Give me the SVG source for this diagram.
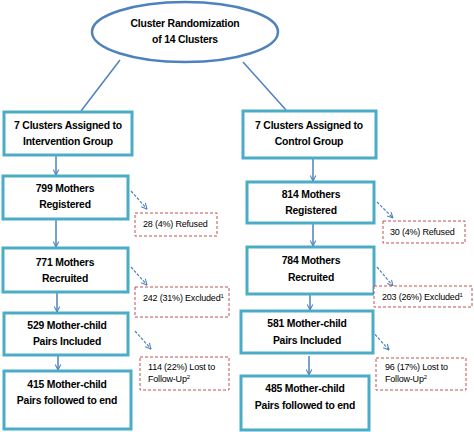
<svg xmlns="http://www.w3.org/2000/svg" width="474" height="432" viewBox="0 0 474 432">
<style>
.box{fill:#fff;stroke:#4BACC6;stroke-width:3}
.ex{fill:#fff;stroke:#C0504D;stroke-width:1;stroke-dasharray:3,2}
.t{font-family:"Liberation Sans",Arial,sans-serif;font-weight:bold;font-size:10.4px;letter-spacing:-0.2px;fill:#000;text-anchor:middle}
.s{font-family:"Liberation Sans",Arial,sans-serif;font-size:9px;letter-spacing:-0.2px;fill:#000}
.ln{stroke:#4F81BD;stroke-width:1.5;fill:none}
.ar{stroke:#4F81BD;stroke-width:1.5;fill:none;marker-end:url(#ah)}
.da{stroke:#4F81BD;stroke-width:1.2;fill:none;stroke-dasharray:3,1.5;marker-end:url(#ah)}
</style>
<defs>
<marker id="ah" viewBox="0 0 10 10" refX="9" refY="5" markerWidth="7" markerHeight="7" orient="auto" markerUnits="userSpaceOnUse"><path d="M1,1 L9,5 L1,9" fill="none" stroke="#4F81BD" stroke-width="1.5"/></marker>
</defs>
<g id="connectors">
<line class="ln" x1="120" y1="60" x2="81" y2="111"/>
<line class="ln" x1="243" y1="62" x2="286" y2="110"/>
<line class="ar" x1="56" y1="156" x2="56" y2="175"/>
<line class="ar" x1="56" y1="220" x2="56" y2="247"/>
<line class="ar" x1="57" y1="293" x2="57" y2="312"/>
<line class="ar" x1="58" y1="356" x2="58" y2="370"/>
<line class="ar" x1="313" y1="159" x2="313" y2="181"/>
<line class="ar" x1="313" y1="224" x2="313" y2="246"/>
<line class="ar" x1="310" y1="295" x2="310" y2="310"/>
<line class="ar" x1="309" y1="356" x2="309" y2="375"/>
<line class="da" x1="131" y1="191" x2="147" y2="209"/>
<line class="da" x1="131" y1="267" x2="147" y2="285"/>
<line class="da" x1="135" y1="331" x2="151" y2="349"/>
<line class="da" x1="377" y1="202" x2="393" y2="218"/>
<line class="da" x1="377" y1="267" x2="393" y2="286"/>
<line class="da" x1="372" y1="331" x2="389" y2="350"/>
</g>
<g id="root">
<ellipse cx="185" cy="32" rx="93" ry="30" fill="#fff" stroke="#4F81BD" stroke-width="2.5"/>
<text class="t" x="185" y="27">Cluster Randomization</text>
<text class="t" x="185" y="43">of 14 Clusters</text>
</g>
<g id="int-assigned">
<rect class="box" x="4" y="112" width="128" height="43"/>
<text class="t" x="68" y="129">7 Clusters Assigned to</text>
<text class="t" x="68" y="145">Intervention Group</text>
</g>
<g id="ctl-assigned">
<rect class="box" x="243" y="111" width="133" height="47"/>
<text class="t" x="309" y="129">7 Clusters Assigned to</text>
<text class="t" x="309" y="145">Control Group</text>
</g>
<g id="int-registered">
<rect class="box" x="3" y="176" width="125" height="43"/>
<text class="t" x="65" y="192">799 Mothers</text>
<text class="t" x="65" y="208">Registered</text>
</g>
<g id="int-refused">
<rect class="ex" x="135" y="213" width="82" height="23"/>
<text class="s" x="143" y="227">28 (4%) Refused</text>
</g>
<g id="int-recruited">
<rect class="box" x="3" y="248" width="125" height="44"/>
<text class="t" x="65" y="266">771 Mothers</text>
<text class="t" x="65" y="282">Recruited</text>
</g>
<g id="int-excluded">
<rect class="ex" x="135" y="287" width="94" height="30"/>
<text class="s" x="143" y="301">242 (31%) Excluded<tspan font-size="6" dy="-3.5">1</tspan></text>
</g>
<g id="int-included">
<rect class="box" x="4" y="313" width="124" height="42"/>
<text class="t" x="67" y="329">529 Mother-child</text>
<text class="t" x="67" y="345">Pairs Included</text>
</g>
<g id="int-lost">
<rect class="ex" x="140" y="357" width="89" height="33"/>
<text class="s" x="148" y="370">114 (22%) Lost to</text>
<text class="s" x="148" y="382">Follow-Up<tspan font-size="6" dy="-3.5">2</tspan></text>
</g>
<g id="int-end">
<rect class="box" x="4" y="371" width="127" height="58"/>
<text class="t" x="67" y="388">415 Mother-child</text>
<text class="t" x="67" y="404">Pairs followed to end</text>
</g>
<g id="ctl-registered">
<rect class="box" x="247" y="182" width="127" height="41"/>
<text class="t" x="311" y="198">814 Mothers</text>
<text class="t" x="311" y="214">Registered</text>
</g>
<g id="ctl-refused">
<rect class="ex" x="383" y="221" width="82" height="22"/>
<text class="s" x="390" y="235">30 (4%) Refused</text>
</g>
<g id="ctl-recruited">
<rect class="box" x="247" y="247" width="127" height="47"/>
<text class="t" x="311" y="264">784 Mothers</text>
<text class="t" x="311" y="281">Recruited</text>
</g>
<g id="ctl-excluded">
<rect class="ex" x="374" y="286" width="98" height="21"/>
<text class="s" x="382" y="300">203 (26%) Excluded<tspan font-size="6" dy="-3.5">1</tspan></text>
</g>
<g id="ctl-included">
<rect class="box" x="241" y="311" width="132" height="42"/>
<text class="t" x="307" y="327">581 Mother-child</text>
<text class="t" x="307" y="344">Pairs Included</text>
</g>
<g id="ctl-lost">
<rect class="ex" x="376" y="358" width="90" height="32"/>
<text class="s" x="385" y="370">96 (17%) Lost to</text>
<text class="s" x="385" y="382">Follow-Up<tspan font-size="6" dy="-3.5">2</tspan></text>
</g>
<g id="ctl-end">
<rect class="box" x="241" y="376" width="128" height="54"/>
<text class="t" x="305" y="392">485 Mother-child</text>
<text class="t" x="305" y="409">Pairs followed to end</text>
</g>
</svg>
